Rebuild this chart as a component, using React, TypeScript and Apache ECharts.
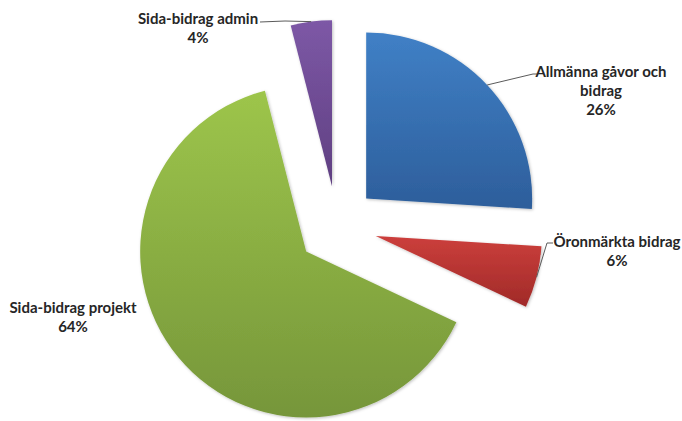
import React, { useEffect, useRef } from "react";
import * as echarts from "echarts";

const categories = [
  "Allmänna gåvor och bidrag",
  "Öronmärkta bidrag",
  "Sida-bidrag projekt",
  "Sida-bidrag admin",
];
const labelTexts = [
  "Allmänna gåvor och\nbidrag",
  "Öronmärkta bidrag",
  "Sida-bidrag projekt",
  "Sida-bidrag admin",
];
const values = [26, 6, 64, 4];

const topColors = ["#4080c6", "#cc3f3c", "#9dc54b", "#7d58a6"];
const bottomColors = ["#2d5e9b", "#a02a28", "#76963a", "#5f3f81"];

// label layout (centre of label block) and label-line bends
const labelCenters: [number, number][] = [
  [601, 90],
  [617, 250],
  [73, 316],
  [198, 27],
];
const lineBends: ([number, number][] | null)[] = [
  [[533, 74], [537, 74]],
  [[547, 243], [553, 243]],
  null,
  [[285, 21], [260, 22]],
];

const PIE_CENTER = [337, 226];
const PIE_RADIUS = 166;
const EXPLODE = 40;

export default function App() {
  const ref = useRef<HTMLDivElement>(null);
  useEffect(() => {
    if (!ref.current) return;
    const chart = echarts.init(ref.current, undefined, { renderer: "svg" });
    chart.setOption({
      animation: false,
      backgroundColor: "#ffffff",
      series: [
        {
          type: "pie",
          center: PIE_CENTER,
          radius: PIE_RADIUS,
          startAngle: 90,
          clockwise: true,
          selectedMode: "multiple",
          selectedOffset: EXPLODE,
          avoidLabelOverlap: false,
          itemStyle: {
            shadowBlur: 3,
            shadowColor: "rgba(0,0,0,0.25)",
            shadowOffsetX: 1,
            shadowOffsetY: 1,
          },
          label: { show: false },
          labelLine: { show: false },
          emphasis: { disabled: true },
          data: categories.map((name, i) => ({
            name,
            value: values[i],
            selected: true,
            itemStyle: {
              color: new echarts.graphic.LinearGradient(0, 0, 0, 1, [
                { offset: 0, color: topColors[i] },
                { offset: 1, color: bottomColors[i] },
              ]),
            },
          })),
        },
      ],
    });

    // Build labels + label lines from the pie's computed layout
    const elements: any[] = [];
    let layouts: any[] = [];
    try {
      const data = (chart as any).getModel().getSeriesByIndex(0).getData();
      layouts = categories.map((_, i) => data.getItemLayout(i));
    } catch (e) {
      layouts = [];
    }
    categories.forEach((_, i) => {
      const bends = lineBends[i];
      const lay = layouts[i];
      if (bends && lay) {
        const mid = (lay.startAngle + lay.endAngle) / 2;
        const rr = lay.r + EXPLODE;
        const anchor = [lay.cx + rr * Math.cos(mid), lay.cy + rr * Math.sin(mid)];
        elements.push({
          type: "polyline",
          silent: true,
          shape: { points: [anchor, ...bends] },
          style: { stroke: "#5a5a5a", lineWidth: 1, fill: null },
          z: 10,
        });
      }
      const [x, y] = labelCenters[i];
      elements.push({
        type: "text",
        silent: true,
        x,
        y,
        z: 11,
        style: {
          text: `${labelTexts[i]}\n${values[i]}%`,
          fill: "#262626",
          fontFamily: "Lato",
          fontWeight: "bold",
          fontSize: 15,
          lineHeight: 19,
          align: "center",
          verticalAlign: "middle",
          textAlign: "center",
          textVerticalAlign: "middle",
        },
      });
    });
    chart.setOption({ graphic: { elements } });

    return () => chart.dispose();
  }, []);
  return (
    <div
      ref={ref}
      style={{ position: "fixed", left: 0, top: 0, width: 682, height: 421 }}
    />
  );
}
